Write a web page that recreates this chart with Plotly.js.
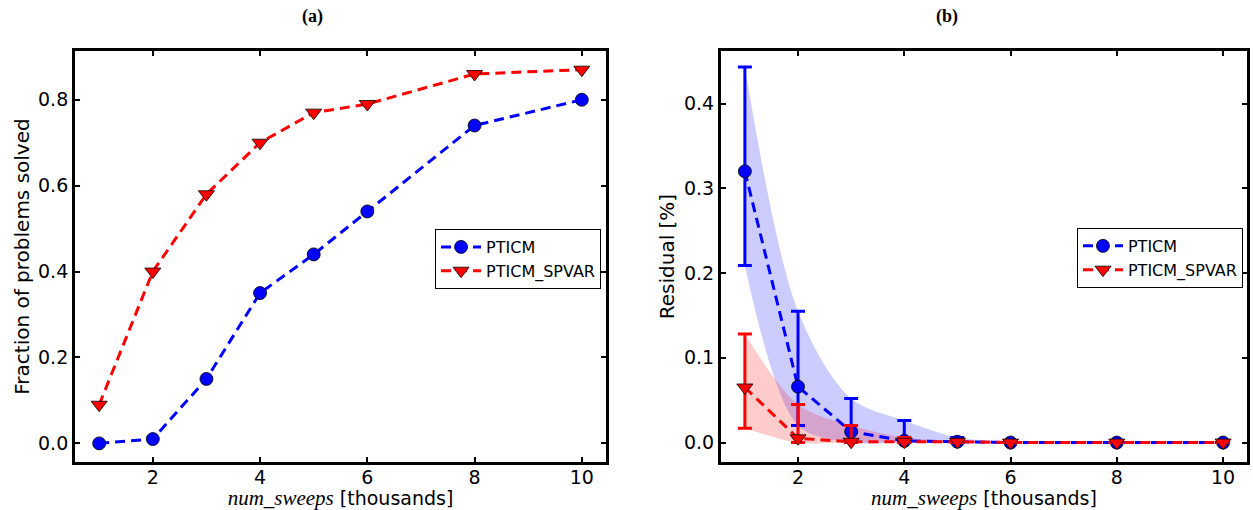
<!DOCTYPE html>
<html>
<head>
<meta charset="utf-8">
<script src="https://cdn.plot.ly/plotly-3.0.1.min.js"></script>
<style>html,body{margin:0;padding:0;background:#fff;}</style>
</head>
<body>
<div id="chart" style="width:1253px;height:510px;"></div>
<script>
// ---- data ----
const sweeps = [1, 2, 3, 4, 5, 6, 8, 10];
const xTicks = [2, 4, 6, 8, 10];
const seriesNames = ["PTICM", "PTICM_SPVAR"];

// panel (a): fraction of problems solved
const solvedPTICM = [0.00, 0.01, 0.15, 0.35, 0.44, 0.54, 0.74, 0.80];
const solvedSPVAR = [0.09, 0.40, 0.58, 0.70, 0.77, 0.79, 0.86, 0.87];

// panel (b): residual [%] mean, upper and lower error bounds
const residPTICM      = [0.320, 0.066, 0.013, 0.002, 0.001, 0.000, 0.000, 0.000];
const residPTICMUpper = [0.443, 0.155, 0.052, 0.026, 0.006, 0.002, 0.000, 0.000];
const residPTICMLower = [0.209, 0.020, 0.000, 0.000, 0.000, 0.000, 0.000, 0.000];
const residSPVAR      = [0.065, 0.005, 0.001, 0.001, 0.001, 0.000, 0.000, 0.000];
const residSPVARUpper = [0.128, 0.045, 0.020, 0.006, 0.002, 0.000, 0.000, 0.000];
const residSPVARLower = [0.017, 0.000, 0.000, 0.000, 0.000, 0.000, 0.000, 0.000];

const yTicksA = [0, 0.2, 0.4, 0.6, 0.8];
const yTicksB = [0, 0.1, 0.2, 0.3, 0.4];

// ---- styling ----
const BLUE = "#0000ff", RED = "#ff0000";
const dashPat = "10px,6px";
const circleMarker = {symbol: "circle", size: 13, color: BLUE, line: {color: "#000", width: 0.8}};
const triMarker = {symbol: "triangle-down", size: 14, color: RED, line: {color: "#000", width: 0.8}};

const diff = (a, b) => a.map((v, i) => v - b[i]);

const traces = [
  // panel a
  {x: sweeps, y: solvedPTICM, name: seriesNames[0], mode: "lines+markers", xaxis: "x", yaxis: "y",
   line: {color: BLUE, width: 3, dash: dashPat}, marker: circleMarker, legend: "legend"},
  {x: sweeps, y: solvedSPVAR, name: seriesNames[1], mode: "lines+markers", xaxis: "x", yaxis: "y",
   line: {color: RED, width: 3, dash: dashPat}, marker: triMarker, legend: "legend"},
  // panel b bands
  {x: sweeps, y: residPTICMUpper, mode: "lines", xaxis: "x2", yaxis: "y2", showlegend: false, hoverinfo: "skip",
   line: {width: 0, shape: "spline", smoothing: 0.9}},
  {x: sweeps, y: residPTICMLower, mode: "lines", xaxis: "x2", yaxis: "y2", showlegend: false, hoverinfo: "skip",
   line: {width: 0, shape: "spline", smoothing: 0.9}, fill: "tonexty", fillcolor: "rgba(0,0,255,0.2)"},
  {x: sweeps, y: residSPVARUpper, mode: "lines", xaxis: "x2", yaxis: "y2", showlegend: false, hoverinfo: "skip",
   line: {width: 0, shape: "spline", smoothing: 0.9}},
  {x: sweeps, y: residSPVARLower, mode: "lines", xaxis: "x2", yaxis: "y2", showlegend: false, hoverinfo: "skip",
   line: {width: 0, shape: "spline", smoothing: 0.9}, fill: "tonexty", fillcolor: "rgba(255,0,0,0.2)"},
  // panel b lines with error bars
  {x: sweeps, y: residPTICM, name: seriesNames[0], mode: "lines+markers", xaxis: "x2", yaxis: "y2",
   line: {color: BLUE, width: 3, dash: dashPat}, marker: circleMarker, legend: "legend2",
   error_y: {type: "data", symmetric: false, array: diff(residPTICMUpper, residPTICM),
             arrayminus: diff(residPTICM, residPTICMLower), color: BLUE, thickness: 3, width: 7}},
  {x: sweeps, y: residSPVAR, name: seriesNames[1], mode: "lines+markers", xaxis: "x2", yaxis: "y2",
   line: {color: RED, width: 3, dash: dashPat}, marker: triMarker, legend: "legend2",
   error_y: {type: "data", symmetric: false, array: diff(residSPVARUpper, residSPVAR),
             arrayminus: diff(residSPVAR, residSPVARLower), color: RED, thickness: 3, width: 7}}
];

const tickFont = {family: "DejaVu Sans", size: 19, color: "#000"};
const titleFont = {family: "DejaVu Sans", size: 20, color: "#000"};
const xTitle = '<span style="font-family:Liberation Serif;font-style:italic;font-size:21px">num_sweeps</span> [thousands]';
function xAxis(domain, anchor) {
  return {domain: domain, anchor: anchor, range: [0.55, 10.45], tickvals: xTicks, ticktext: xTicks.map(String),
    ticks: "inside", ticklen: 5, tickwidth: 2, tickcolor: "#000", mirror: "allticks",
    showline: true, linecolor: "#000", linewidth: 3, showgrid: false, zeroline: false,
    ticklabelstandoff: -4,
    tickfont: tickFont, title: {text: xTitle, font: {family: "DejaVu Sans", size: 19, color: "#000"}, standoff: 6}};
}
function yAxis(range, ticks, title, anchor) {
  return {domain: [0.094, 0.9], anchor: anchor, range: range, tickvals: ticks, ticktext: ticks.map(v => v.toFixed(1)),
    ticks: "inside", ticklen: 5, tickwidth: 2, tickcolor: "#000", mirror: "allticks",
    showline: true, linecolor: "#000", linewidth: 3, showgrid: false, zeroline: false,
    tickfont: tickFont, title: {text: title, font: titleFont, standoff: 4}};
}

const legendStyle = {bgcolor: "#fff", bordercolor: "#000", borderwidth: 1,
  font: {family: "DejaVu Sans", size: 16, color: "#000"}, xanchor: "right", yanchor: "top",
  traceorder: "normal", tracegroupgap: 0, itemwidth: 40};

const layout = {
  width: 1253, height: 510,
  margin: {l: 0, r: 0, t: 0, b: 0},
  paper_bgcolor: "#fff", plot_bgcolor: "#fff",
  showlegend: true,
  xaxis: xAxis([0.0599, 0.4836], "y"),
  yaxis: yAxis([-0.0435, 0.9135], yTicksA, "Fraction of problems solved", "x"),
  xaxis2: xAxis([0.5754, 0.9952], "y2"),
  yaxis2: yAxis([-0.023, 0.462], yTicksB, "Residual [%]", "x2"),
  legend: Object.assign({x: 0.4797, y: 0.551}, legendStyle),
  legend2: Object.assign({x: 0.992, y: 0.553}, legendStyle),
  annotations: [
    {text: "<b>(a)</b>", x: 0.2395, xref: "paper", yref: "paper", showarrow: false, yanchor: "middle",
     font: {family: "Liberation Serif", size: 18, color: "#000"}},
    {text: "<b>(b)</b>", x: 0.766, xref: "paper", yref: "paper", showarrow: false, yanchor: "middle",
     font: {family: "Liberation Serif", size: 18, color: "#000"}}
  ]
};
layout.annotations.forEach(a => { a.y = 1 - 17 / 510; });

Plotly.newPlot("chart", traces, layout, {displayModeBar: false, staticPlot: true});
</script>
</body>
</html>
